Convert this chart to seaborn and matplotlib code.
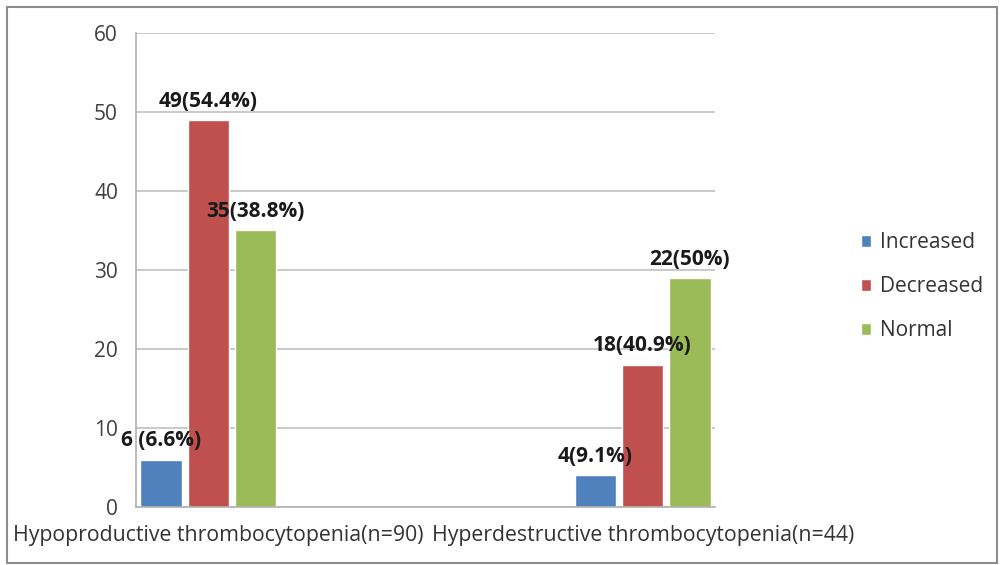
import seaborn as sns
import pandas as pd
import numpy as np
import matplotlib.pyplot as plt
from matplotlib.patches import Rectangle

# data
categories = ["Hypoproductive thrombocytopenia(n=90)", "Hyperdestructive thrombocytopenia(n=44)"]
series = ["Increased", "Decreased", "Normal"]
increased = [6, 4]
decreased = [49, 18]
normal = [35, 29]
increased_labels = ["6 (6.6%)", "4(9.1%)"]
decreased_labels = ["49(54.4%)", "18(40.9%)"]
normal_labels = ["35(38.8%)", "22(50%)"]

colors = ["#4f81bd", "#c0504d", "#9bbb59"]

rows = []
for i, cat in enumerate(categories):
    rows.append((cat, "Increased", increased[i], increased_labels[i]))
    rows.append((cat, "Decreased", decreased[i], decreased_labels[i]))
    rows.append((cat, "Normal", normal[i], normal_labels[i]))
df = pd.DataFrame(rows, columns=["group", "platelet", "count", "label"])

sns.set_style("white")
plt.rcParams['font.family'] = ['Open Sans', 'DejaVu Sans']

fig = plt.figure(figsize=(10, 5.65), dpi=100)
ax = fig.add_axes([0.136, 0.1027, 0.579, 0.8389])

# two empty slots between the groups, like the original layout
order = [categories[0], "_a", "_b", categories[1]]
sns.barplot(data=df, x="group", y="count", hue="platelet", order=order,
            hue_order=series, palette=colors, width=0.98, gap=0.12,
            saturation=1, errorbar=None, ax=ax, legend=True)

for cont, name in zip(ax.containers, series):
    labs = []
    for bar in cont:
        xc = bar.get_x() + bar.get_width() / 2
        idx = 0 if xc < 1.5 else 1
        labs.append(df[(df.group == categories[idx]) & (df.platelet == name)]["label"].iloc[0])
    ax.bar_label(cont, labels=labs, padding=6, fontsize=15, fontweight="bold", color="#1a1a1a")

ax.set_xlim(-0.5, 3.5)
ax.set_ylim(0, 60)
ax.set_yticks(np.arange(0, 61, 10))
ax.yaxis.grid(True, color="#c0c0c0", linewidth=1.2)
ax.set_axisbelow(True)
ax.set_xticks([0.07, 3])
ax.set_xticklabels(categories)
ax.set_xticks(np.arange(-0.5, 3.6, 1), minor=True)
ax.tick_params(axis="x", which="major", length=0, pad=13, labelsize=15.3, labelcolor="#333333")
ax.tick_params(axis="x", which="minor", length=5, color="#b0b0b0", width=1.2, direction="out")
ax.tick_params(axis="y", length=5, color="#b0b0b0", width=1.2, direction="out", pad=8,
               labelsize=15, labelcolor="#404040")
ax.set_xlabel("")
ax.set_ylabel("")
for side in ["top", "right"]:
    ax.spines[side].set_visible(False)
for side in ["left", "bottom"]:
    ax.spines[side].set_color("#b0b0b0")
    ax.spines[side].set_linewidth(1.2)

leg = ax.legend(loc="center left", bbox_to_anchor=(1.219, 0.465), frameon=False,
                fontsize=15, handlelength=0.5, handleheight=0.5, handletextpad=0.45,
                labelspacing=1.1)
for t in leg.get_texts():
    t.set_color("#333333")

fig.patches.append(Rectangle((0.007, 0.004), 0.99, 0.983, transform=fig.transFigure,
                             fill=False, edgecolor="#8c8c8c", linewidth=1.5, zorder=-1))

fig.savefig("out.png", dpi=100)
